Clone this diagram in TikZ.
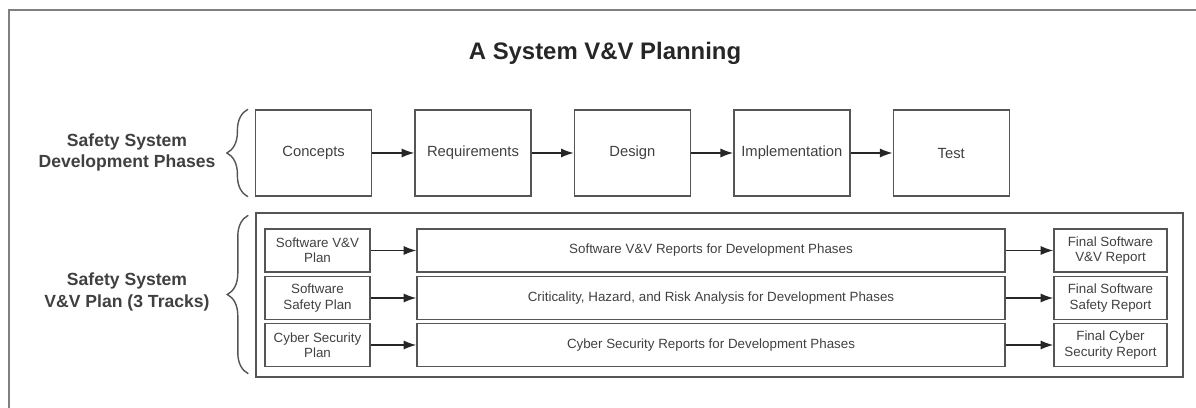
\documentclass[tikz,border=0pt]{standalone}
\usepackage{fontspec}
\setmainfont{Liberation Sans}
\usetikzlibrary{positioning,arrows.meta,decorations.pathreplacing}
\definecolor{linegray}{HTML}{555555}
\definecolor{textgray}{HTML}{404040}
\tikzset{
  phase/.style={draw=linegray, line width=1pt, minimum width=2.9cm, minimum height=2.15cm,
    text=textgray, font=\fontsize{10.5}{12}\selectfont},
  track/.style={draw=linegray, line width=1pt, minimum height=1.075cm, inner sep=1pt,
    text=textgray, align=center, font=\fontsize{9.5}{10.8}\selectfont},
  flow/.style={->, >={Latex[length=9pt,width=6.5pt]}, line width=1pt, draw=black!85},
  grp/.style={decorate, decoration={brace, amplitude=0.525cm}, draw=linegray, line width=1pt},
  lbl/.style={font=\bfseries\fontsize{12.5}{15}\selectfont, text=black!75, align=center},
}

\begin{document}
\begin{tikzpicture}
\useasboundingbox (0,0) rectangle (29.9,-10.2);
\draw [black!50, line width=0.8pt] (0.225,-10.2) -- (0.225,-0.25) -- (29.9,-0.25);
\node [font=\bfseries\fontsize{17}{20}\selectfont, text=black!85] (title) at (15.125,-1.325) {A System V\&V Planning};

% development phases
\node [phase] (concepts) at (7.84,-3.825) {Concepts};
\node [phase, right=1.05cm of concepts] (req) {Requirements};
\node [phase, right=1.05cm of req] (design) {Design};
\node [phase, right=1.05cm of design] (impl) {Implementation};
\node [phase, right=1.05cm of impl] (test) {Test};
\draw [flow] (concepts) -- (req);
\draw [flow] (req) -- (design);
\draw [flow] (design) -- (impl);
\draw [flow] (impl) -- (test);
\draw [grp] ([xshift=-0.175cm]concepts.south west) -- ([xshift=-0.175cm]concepts.north west);
\node [lbl] (devlbl) at (3.175,-3.82) {Safety System\\Development Phases};

% v&v plan, 3 tracks
\node [draw=linegray, line width=1pt, minimum width=23.175cm, minimum height=4.1cm] (vvframe) at (17.9875,-7.375) {};
\draw [grp] ([xshift=-0.175cm,yshift=0.1cm]vvframe.south west) -- ([xshift=-0.175cm,yshift=-0.075cm]vvframe.north west);
\node [lbl] (vvlbl) at (3.175,-7.3) {Safety System\\V\&V Plan (3 Tracks)};

\node [track, minimum width=2.625cm] (swplan) at (7.9375,-6.2625) {Software V\&V\\Plan};
\node [track, minimum width=14.7cm] (swrep) at (17.775,-6.2625) {Software V\&V Reports for Development Phases};
\node [track, minimum width=2.825cm] (swfinal) at (27.7625,-6.2625) {Final Software\\V\&V Report};

\node [track, minimum width=2.625cm] (sfplan) at (7.9375,-7.45) {Software\\Safety Plan};
\node [track, minimum width=14.7cm] (sfrep) at (17.775,-7.45) {Criticality, Hazard, and Risk Analysis for Development Phases};
\node [track, minimum width=2.825cm] (sffinal) at (27.7625,-7.45) {Final Software\\Safety Report};

\node [track, minimum width=2.625cm] (cyplan) at (7.9375,-8.625) {Cyber Security\\Plan};
\node [track, minimum width=14.7cm] (cyrep) at (17.775,-8.625) {Cyber Security Reports for Development Phases};
\node [track, minimum width=2.825cm] (cyfinal) at (27.7625,-8.625) {Final Cyber\\Security Report};

\draw [flow] (swplan) -- (swrep);
\draw [flow] (swrep) -- (swfinal);
\draw [flow] (sfplan) -- (sfrep);
\draw [flow] (sfrep) -- (sffinal);
\draw [flow] (cyplan) -- (cyrep);
\draw [flow] (cyrep) -- (cyfinal);
\end{tikzpicture}
\end{document}
